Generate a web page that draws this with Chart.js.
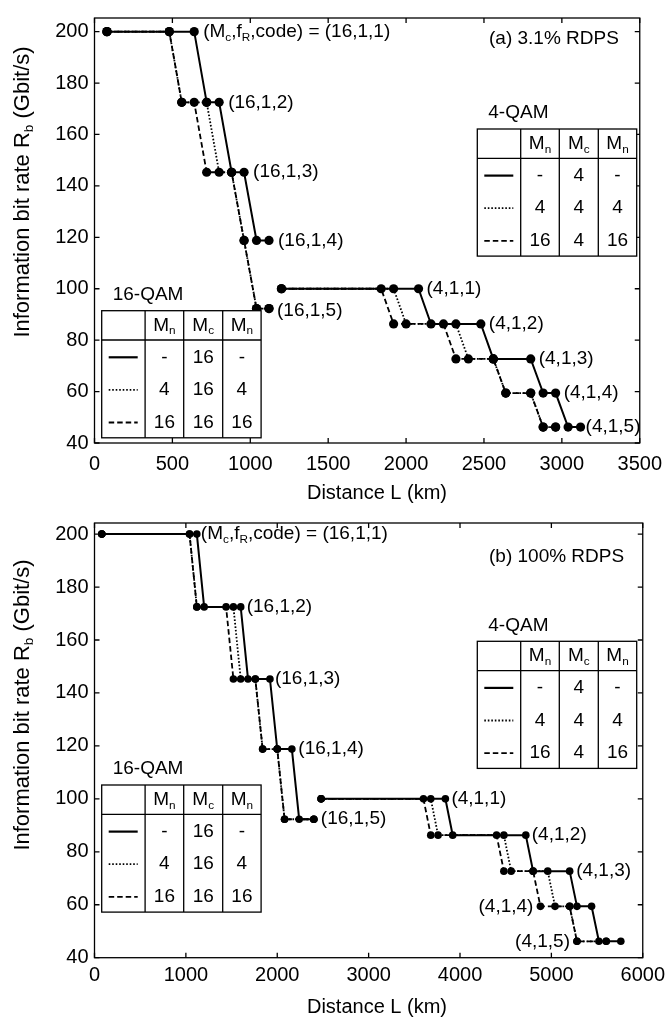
<!DOCTYPE html>
<html><head><meta charset="utf-8">
<script src="https://cdn.jsdelivr.net/npm/chart.js@4.4.0/dist/chart.umd.min.js"></script>
<style>
html,body{margin:0;padding:0;background:#fff;}
#wrap{position:relative;width:671px;height:1019px;overflow:hidden;}
canvas{position:absolute;left:0;}
</style></head><body>
<div id="wrap">
<canvas id="cA" width="671" height="505" style="top:0"></canvas>
<canvas id="cB" width="671" height="514" style="top:505px"></canvas>
</div>
<script>
// ---------- tick labels ----------
const X_TICKS_A = [0, 500, 1000, 1500, 2000, 2500, 3000, 3500];
const X_TICKS_B = [0, 1000, 2000, 3000, 4000, 5000, 6000];
const Y_TICKS = [40, 60, 80, 100, 120, 140, 160, 180, 200];

// ---------- panel (a) 3.1% RDPS : distance (km) / bit rate (Gbit/s) ----------
const A16_SOLID_KM = [80, 640, 720, 800, 880, 960, 1040, 1120];
const A16_SOLID_RB = [200, 200, 172.5, 172.5, 145.3, 145.3, 118.8, 118.8];
const A16_DOT_KM   = [80, 480, 560, 720, 800, 880, 960, 1040, 1120];
const A16_DOT_RB   = [200, 200, 172.5, 172.5, 145.3, 145.3, 118.8, 92.3, 92.3];
const A16_DASH_KM  = [80, 480, 560, 640, 720, 880, 960, 1040, 1120];
const A16_DASH_RB  = [200, 200, 172.5, 172.5, 145.3, 145.3, 118.8, 92.3, 92.3];

const A4_SOLID_KM = [1200, 2080, 2160, 2480, 2560, 2800, 2880, 2960, 3040, 3120];
const A4_DOT_KM   = [1200, 1920, 2000, 2320, 2400, 2560, 2640, 2800, 2880, 2960];
const A4_DASH_KM  = [1200, 1840, 1920, 2240, 2320, 2560, 2640, 2800, 2880, 2960];
const A4_RB       = [100, 100, 86.3, 86.3, 72.7, 72.7, 59.4, 59.4, 46.2, 46.2];

// ---------- panel (b) 100% RDPS ----------
const B16_SOLID_KM = [80, 1120, 1200, 1600, 1680, 1920, 2000, 2160, 2240, 2400];
const B16_DOT_KM   = [80, 1040, 1120, 1520, 1600, 1760, 1840, 2000, 2080, 2400];
const B16_DASH_KM  = [80, 1040, 1120, 1440, 1520, 1760, 1840, 2000, 2080, 2400];
const B16_RB       = [200, 200, 172.5, 172.5, 145.3, 145.3, 118.8, 118.8, 92.3, 92.3];

const B4_SOLID_KM = [2480, 3840, 3920, 4720, 4800, 5200, 5280, 5440, 5520, 5760];
const B4_DOT_KM   = [2480, 3680, 3760, 4480, 4560, 4960, 5040, 5200, 5280, 5600];
const B4_DASH_KM  = [2480, 3600, 3680, 4400, 4480, 4800, 4880, 5200, 5280, 5600];
const B4_RB       = [100, 100, 86.3, 86.3, 72.7, 72.7, 59.4, 59.4, 46.2, 46.2];

// ---------- text ----------
const X_TITLE = 'Distance L (km)';
const Y_TITLE = [{t:'Information bit rate R'},{t:'b',sub:true},{t:' (Gbit/s)'}];
const PANEL_A_TITLE = '(a) 3.1% RDPS';
const PANEL_B_TITLE = '(b) 100% RDPS';
const FIRST_LABEL = [{t:'(M'},{t:'c',sub:true},{t:',f'},{t:'R',sub:true},{t:',code) = (16,1,1)'}];
const TABLE_HEAD = [['M','n'],['M','c'],['M','n']];
const TABLE_4QAM_ROWS  = [['-','4','-'],['4','4','4'],['16','4','16']];
const TABLE_16QAM_ROWS = [['-','16','-'],['4','16','4'],['16','16','16']];

const FONT = '"Liberation Sans", Arial, Helvetica, sans-serif';
const DASH = {solid: [], dot: [1.6, 1.9], dash: [5.5, 3]};

function richWidth(ctx, parts, size) {
  let w = 0;
  for (const p of parts) {
    ctx.font = (p.sub ? size*0.62 : size) + 'px ' + FONT;
    w += ctx.measureText(p.t).width;
  }
  return w;
}
function drawRich(ctx, parts, x, y, size, align) {
  ctx.save();
  ctx.textBaseline = 'middle';
  ctx.textAlign = 'left';
  ctx.fillStyle = '#000';
  let w = richWidth(ctx, parts, size);
  let cx = align === 'right' ? x - w : (align === 'center' ? x - w/2 : x);
  for (const p of parts) {
    const s = p.sub ? size*0.62 : size;
    ctx.font = s + 'px ' + FONT;
    ctx.fillText(p.t, cx, p.sub ? y + size*0.3 : y);
    cx += ctx.measureText(p.t).width;
  }
  ctx.restore();
}

function drawTable(ctx, t) {
  const colW = [43.4, 38.6, 39, 38.4];
  const headH = 29.3, rowH = 32.6;
  const W = colW.reduce((a,b)=>a+b,0), H = headH + 3*rowH;
  ctx.save();
  ctx.fillStyle = '#fff';
  ctx.fillRect(t.left, t.top, W, H);
  ctx.strokeStyle = '#000'; ctx.lineWidth = 1.3;
  ctx.strokeRect(t.left, t.top, W, H);
  ctx.beginPath();
  let x = t.left;
  for (let i = 0; i < 3; i++) { x += colW[i]; ctx.moveTo(x, t.top); ctx.lineTo(x, t.top + H); }
  ctx.moveTo(t.left, t.top + headH); ctx.lineTo(t.left + W, t.top + headH);
  ctx.stroke();
  drawRich(ctx, [{t:t.title}], t.left + 11, t.top - 16, 19, 'left');
  x = t.left + colW[0];
  for (let i = 0; i < 3; i++) {
    const h = TABLE_HEAD[i];
    drawRich(ctx, [{t:h[0]},{t:h[1],sub:true}], x + colW[i+1]/2, t.top + headH/2, 19, 'center');
    x += colW[i+1];
  }
  const styles = ['solid','dot','dash'];
  for (let r = 0; r < 3; r++) {
    const cy = t.top + headH + rowH*(r+0.5) + 1;
    ctx.beginPath();
    ctx.setLineDash(DASH[styles[r]]);
    ctx.lineWidth = r === 0 ? 2.2 : 1.8;
    ctx.moveTo(t.left + 7, cy); ctx.lineTo(t.left + 36, cy);
    ctx.stroke();
    ctx.setLineDash([]);
    x = t.left + colW[0];
    for (let c = 0; c < 3; c++) {
      drawRich(ctx, [{t:t.rows[r][c]}], x + colW[c+1]/2, cy, 19, 'center');
      x += colW[c+1];
    }
  }
  ctx.restore();
}

const decoPlugin = {
  id: 'deco',
  afterDraw(chart) {
    const cfg = chart.options.plugins.deco;
    const ctx = chart.ctx;
    const a = chart.chartArea;
    const xs = chart.scales.x, ys = chart.scales.y;
    ctx.save();
    ctx.strokeStyle = '#000';
    ctx.lineWidth = 1.3;
    ctx.setLineDash([]);
    ctx.strokeRect(a.left, a.top, a.right - a.left, a.bottom - a.top);
    ctx.beginPath();
    for (const v of cfg.xTicks) {
      const px = xs.getPixelForValue(v);
      ctx.moveTo(px, a.bottom); ctx.lineTo(px, a.bottom - 5);
      ctx.moveTo(px, a.top); ctx.lineTo(px, a.top + 5);
    }
    for (const v of Y_TICKS) {
      const py = ys.getPixelForValue(v);
      ctx.moveTo(a.left, py); ctx.lineTo(a.left + 5, py);
      ctx.moveTo(a.right, py); ctx.lineTo(a.right - 5, py);
    }
    ctx.stroke();
    drawRich(ctx, [{t:X_TITLE}], cfg.xTitleX, cfg.xTitleY, 20, 'center');
    ctx.save();
    ctx.translate(cfg.yTitleX, cfg.yTitleY);
    ctx.rotate(-Math.PI/2);
    drawRich(ctx, Y_TITLE, 0, 0, 22, 'center');
    ctx.restore();
    drawRich(ctx, [{t:cfg.panelTitle}], cfg.panelX, cfg.panelY, 19, 'left');
    for (const an of cfg.ann) {
      const px = xs.getPixelForValue(an.km) + an.dx;
      const py = ys.getPixelForValue(an.rb) + (an.dy || 0);
      drawRich(ctx, an.parts, px, py, 19, an.align || 'left');
    }
    for (const t of cfg.tables) drawTable(ctx, t);
    ctx.restore();
  }
};

function makeSeries(km, rb, style, r) {
  return {
    data: km.map((v, i) => ({x: v, y: rb[i]})),
    showLine: true,
    borderColor: '#000', backgroundColor: '#000',
    borderWidth: style === 'solid' ? 2 : 1.8,
    borderDash: DASH[style],
    pointRadius: r, pointHoverRadius: r,
    pointBackgroundColor: '#000', pointBorderColor: '#000', pointBorderWidth: 0,
    tension: 0, fill: false
  };
}

function makeChart(id, o) {
  return new Chart(document.getElementById(id), {
    type: 'scatter',
    data: {datasets: o.datasets},
    options: {
      responsive: false, animation: false, events: [],
      layout: {padding: {left: 0, right: o.padR, top: o.padT, bottom: 0}},
      plugins: {legend: {display: false}, tooltip: {enabled: false}, deco: o.deco},
      scales: {
        x: {type: 'linear', min: 0, max: o.xMax,
            afterBuildTicks: s => { s.ticks = o.deco.xTicks.map(v => ({value: v})); },
            afterFit: s => { s.height = o.xH; },
            grid: {display: false, drawTicks: false}, border: {display: false},
            ticks: {color: '#000', font: {family: FONT, size: 20}, padding: o.xPad, maxRotation: 0, autoSkip: false,
                    callback: v => String(v)}},
        y: {type: 'linear', min: 40, max: o.yMax,
            afterBuildTicks: s => { s.ticks = Y_TICKS.map(v => ({value: v})); },
            afterFit: s => { s.width = 94.5; },
            grid: {display: false, drawTicks: false}, border: {display: false},
            ticks: {color: '#000', font: {family: FONT, size: 20}, padding: 6, autoSkip: false,
                    callback: v => String(v)}}
      }
    },
    plugins: [decoPlugin]
  });
}

const rA = 4.6, rB = 3.8;
makeChart('cA', {
  xMax: 3500, yMax: 205.3, padR: 22.5, padT: 6, xH: 62, xPad: 9,
  datasets: [
    makeSeries(A16_SOLID_KM, A16_SOLID_RB, 'solid', rA),
    makeSeries(A16_DOT_KM, A16_DOT_RB, 'dot', rA),
    makeSeries(A16_DASH_KM, A16_DASH_RB, 'dash', rA),
    makeSeries(A4_SOLID_KM, A4_RB, 'solid', rA),
    makeSeries(A4_DOT_KM, A4_RB, 'dot', rA),
    makeSeries(A4_DASH_KM, A4_RB, 'dash', rA)
  ],
  deco: {
    xTicks: X_TICKS_A, xTitleX: 377, xTitleY: 493, yTitleX: 23, yTitleY: 192,
    panelTitle: PANEL_A_TITLE, panelX: 489, panelY: 39,
    ann: [
      {parts: FIRST_LABEL, km: 640, rb: 200, dx: 9},
      {parts: [{t:'(16,1,2)'}], km: 800, rb: 172.5, dx: 9},
      {parts: [{t:'(16,1,3)'}], km: 960, rb: 145.3, dx: 9},
      {parts: [{t:'(16,1,4)'}], km: 1120, rb: 118.8, dx: 9},
      {parts: [{t:'(16,1,5)'}], km: 1120, rb: 92.3, dx: 8, dy: 2},
      {parts: [{t:'(4,1,1)'}], km: 2080, rb: 100, dx: 8},
      {parts: [{t:'(4,1,2)'}], km: 2480, rb: 86.3, dx: 8},
      {parts: [{t:'(4,1,3)'}], km: 2800, rb: 72.7, dx: 8},
      {parts: [{t:'(4,1,4)'}], km: 2960, rb: 59.4, dx: 8},
      {parts: [{t:'(4,1,5)'}], km: 3120, rb: 46.2, dx: 5}
    ],
    tables: [
      {left: 477.3, top: 129, title: '4-QAM', rows: TABLE_4QAM_ROWS},
      {left: 101.7, top: 310.7, title: '16-QAM', rows: TABLE_16QAM_ROWS}
    ]
  }
});

makeChart('cB', {
  xMax: 6000, yMax: 204.2, padR: 22.5, padT: 17.3, xH: 61.3, xPad: 6,
  datasets: [
    makeSeries(B16_SOLID_KM, B16_RB, 'solid', rB),
    makeSeries(B16_DOT_KM, B16_RB, 'dot', rB),
    makeSeries(B16_DASH_KM, B16_RB, 'dash', rB),
    makeSeries(B4_SOLID_KM, B4_RB, 'solid', rB),
    makeSeries(B4_DOT_KM, B4_RB, 'dot', rB),
    makeSeries(B4_DASH_KM, B4_RB, 'dash', rB)
  ],
  deco: {
    xTicks: X_TICKS_B, xTitleX: 377, xTitleY: 502, yTitleX: 23, yTitleY: 200,
    panelTitle: PANEL_B_TITLE, panelX: 489, panelY: 52,
    ann: [
      {parts: FIRST_LABEL, km: 1120, rb: 200, dx: 4},
      {parts: [{t:'(16,1,2)'}], km: 1600, rb: 172.5, dx: 6},
      {parts: [{t:'(16,1,3)'}], km: 1920, rb: 145.3, dx: 5},
      {parts: [{t:'(16,1,4)'}], km: 2160, rb: 118.8, dx: 6.5},
      {parts: [{t:'(16,1,5)'}], km: 2400, rb: 92.3, dx: 7},
      {parts: [{t:'(4,1,1)'}], km: 3840, rb: 100, dx: 6},
      {parts: [{t:'(4,1,2)'}], km: 4720, rb: 86.3, dx: 6},
      {parts: [{t:'(4,1,3)'}], km: 5200, rb: 72.7, dx: 6.5},
      {parts: [{t:'(4,1,4)'}], km: 4880, rb: 59.4, dx: -7, align: 'right'},
      {parts: [{t:'(4,1,5)'}], km: 5280, rb: 46.2, dx: -7, align: 'right'}
    ],
    tables: [
      {left: 477.3, top: 136.3, title: '4-QAM', rows: TABLE_4QAM_ROWS},
      {left: 101.7, top: 280, title: '16-QAM', rows: TABLE_16QAM_ROWS}
    ]
  }
});
</script>
</body></html>
